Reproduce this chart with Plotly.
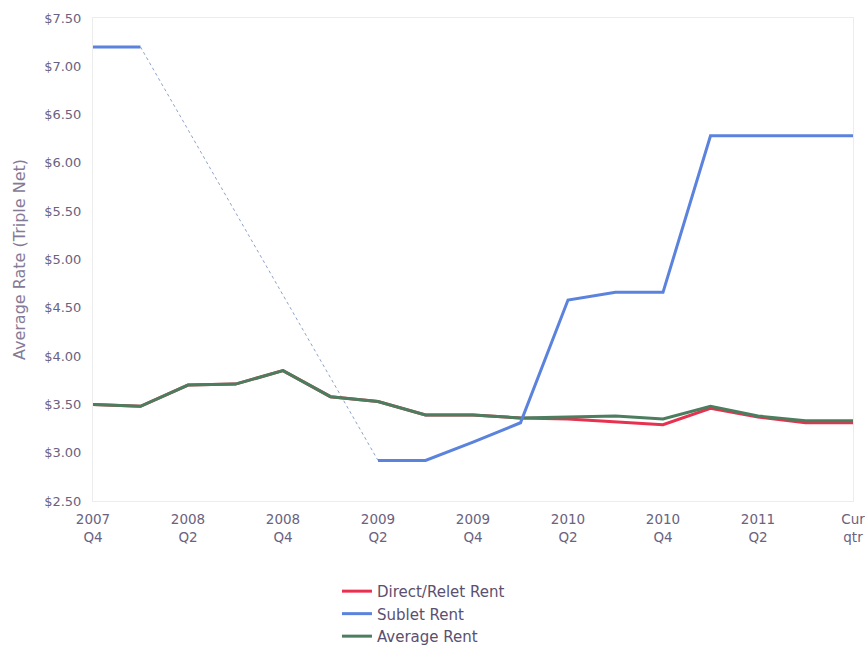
import plotly.graph_objects as go

# Quarterly average asking rents (triple net), $ per sq ft
quarters = ["2007 Q4", "2008 Q1", "2008 Q2", "2008 Q3", "2008 Q4",
            "2009 Q1", "2009 Q2", "2009 Q3", "2009 Q4",
            "2010 Q1", "2010 Q2", "2010 Q3", "2010 Q4",
            "2011 Q1", "2011 Q2", "2011 Q3", "Cur qtr"]

direct_rent = [3.50, 3.48, 3.70, 3.71, 3.85, 3.58, 3.53, 3.39, 3.39,
               3.36, 3.35, 3.32, 3.29, 3.46, 3.37, 3.31, 3.31]
sublet_rent = [7.20, 7.20, None, None, None, None, 2.92, 2.92, 3.11,
               3.31, 4.58, 4.66, 4.66, 6.28, 6.28, 6.28, 6.28]
average_rent = [3.50, 3.48, 3.70, 3.71, 3.85, 3.58, 3.53, 3.39, 3.39,
                3.36, 3.37, 3.38, 3.35, 3.48, 3.38, 3.33, 3.33]

tick_quarters = quarters[::2]
tick_text = [q.replace(" ", "<br>") for q in tick_quarters]
y_ticks = [2.5 + 0.5 * i for i in range(11)]

RED = "#e8304f"
BLUE = "#5b82dc"
GREEN = "#4b7d5e"
TEXT = "#6a6280"

# Sublet values bridging the quarters with no sublet data (dotted connector)
first_gap = sublet_rent.index(None)
last_gap = len(sublet_rent) - 1 - sublet_rent[::-1].index(None)
bridge = [v if i in (first_gap - 1, last_gap + 1) else None
          for i, v in enumerate(sublet_rent)]

fig = go.Figure()
fig.add_trace(go.Scatter(x=quarters, y=bridge, mode="lines", connectgaps=True,
                         line=dict(color="#8fa3c8", width=1, dash="dot"),
                         showlegend=False, hoverinfo="skip"))
fig.add_trace(go.Scatter(x=quarters, y=direct_rent, mode="lines",
                         name="Direct/Relet Rent", legendrank=1,
                         line=dict(color=RED, width=3)))
fig.add_trace(go.Scatter(x=quarters, y=average_rent, mode="lines",
                         name="Average Rent", legendrank=3,
                         line=dict(color=GREEN, width=3)))
fig.add_trace(go.Scatter(x=quarters, y=sublet_rent, mode="lines",
                         name="Sublet Rent", legendrank=2, connectgaps=False,
                         line=dict(color=BLUE, width=3)))

fig.update_layout(
    width=865, height=645,
    margin=dict(l=93, r=12, t=18, b=144, autoexpand=False),
    paper_bgcolor="white", plot_bgcolor="white",
    font=dict(family="DejaVu Sans, Verdana, sans-serif", color=TEXT, size=12),
    showlegend=True,
    legend=dict(x=0.321, xanchor="left", y=-0.153, yanchor="top",
                font=dict(size=15, color="#5a5070"),
                bgcolor="rgba(0,0,0,0)", itemwidth=30, tracegroupgap=0),
    xaxis=dict(type="category", categoryorder="array", categoryarray=quarters,
               range=[0, len(quarters) - 1],
               tickmode="array", tickvals=tick_quarters, ticktext=tick_text,
               tickfont=dict(size=13.5, color=TEXT),
               showgrid=False, zeroline=False, automargin=False,
               showline=True, linecolor="#ececec", linewidth=1, mirror=True,
               ticks="outside", ticklen=6, tickcolor="rgba(0,0,0,0)"),
    yaxis=dict(range=[2.5, 7.5], tickvals=y_ticks,
               ticktext=["${:.2f}".format(v) for v in y_ticks],
               tickfont=dict(size=13, color=TEXT),
               title=dict(text="Average Rate (Triple Net)",
                          font=dict(size=16, color="#857a96"), standoff=14),
               showgrid=False, zeroline=False, automargin=False,
               showline=True, linecolor="#ececec", linewidth=1, mirror=True,
               ticks="outside", ticklen=8, tickcolor="rgba(0,0,0,0)"),
)

fig.write_html("out.html")
